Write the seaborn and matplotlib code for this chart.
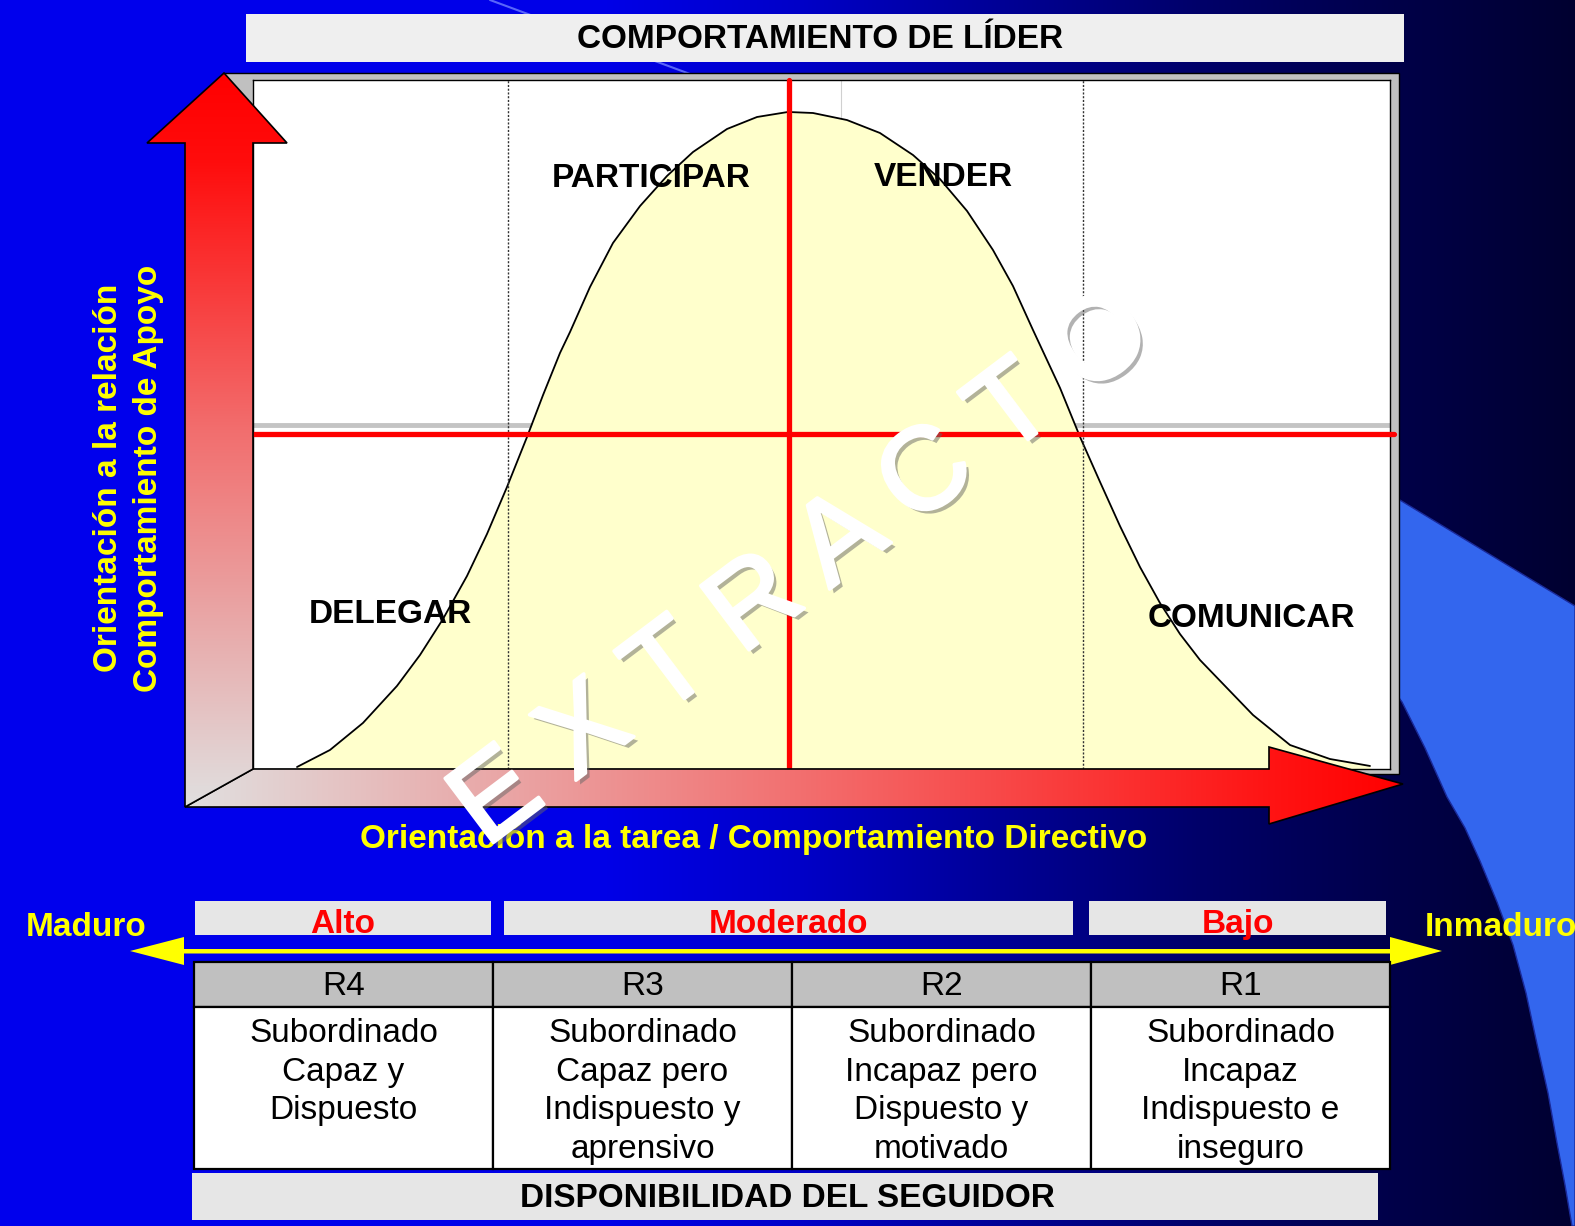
import numpy as np
import matplotlib
matplotlib.use("Agg")
import matplotlib.pyplot as plt
import seaborn as sns
from matplotlib.patches import Polygon, Rectangle
import matplotlib.patheffects as pe

# ---------------- data ----------------
# bell curve: task orientation (x, 0-100) vs relationship orientation (y, 0-100)
task_orientation = [3.87, 6.77, 9.67, 12.66, 14.69, 16.71, 18.82, 20.58, 22.34, 24.10,
                    25.51, 27.00, 27.88, 29.64, 31.66, 34.04, 36.41, 38.70, 41.69, 44.33,
                    47.05, 49.25, 52.24, 55.14, 58.05, 60.42, 62.80, 65.08, 66.84, 68.60,
                    70.98, 72.74, 74.50, 76.25, 78.01, 79.77, 81.53, 83.29, 85.66, 87.95,
                    91.21, 94.72, 98.24]
relationship_orientation = [0.29, 2.76, 6.68, 12.05, 16.55, 21.77, 28.01, 34.11, 40.93, 48.19,
                            54.28, 60.38, 63.42, 69.96, 76.34, 81.71, 86.07, 89.55, 92.89, 94.63,
                            95.36, 95.21, 94.19, 92.31, 89.11, 85.63, 80.99, 75.33, 70.10, 63.72,
                            55.30, 48.19, 41.65, 35.27, 29.32, 24.09, 19.59, 15.82, 11.76, 7.84,
                            3.48, 1.45, 0.44]
quadrant_dividers = [22.43, 73.0]
center_task = 47.14
center_relationship = 48.62
grid_relationship = 49.93
grid_task = 51.72

style_names = ["DELEGAR", "PARTICIPAR", "VENDER", "COMUNICAR"]
maturity_ends = ["Maduro", "Inmaduro"]
readiness_levels = ["Alto", "Moderado", "Bajo"]
readiness_codes = ["R4", "R3", "R2", "R1"]
readiness_desc = [["Subordinado", "Capaz y", "Dispuesto"],
                  ["Subordinado", "Capaz pero", "Indispuesto y", "aprensivo"],
                  ["Subordinado", "Incapaz pero", "Dispuesto y", "motivado"],
                  ["Subordinado", "Incapaz", "Indispuesto e", "inseguro"]]
title_top = "COMPORTAMIENTO DE LÍDER"
title_bottom = "DISPONIBILIDAD DEL SEGUIDOR"
x_label = "Orientación a la tarea / Comportamiento Directivo"
y_label = ["Orientación a la relación", "Comportamiento de Apoyo"]
watermark = "EXTRACTO"

# ---------------- styling ----------------
sns.set_theme(style="white")
plt.rcParams["font.family"] = ["Liberation Sans", "DejaVu Sans"]

W, H = 1575, 1226
fig = plt.figure(figsize=(W / 100, H / 100), dpi=100)


def pix_axes(z):
    a = fig.add_axes([0, 0, 1, 1], zorder=z)
    a.set_xlim(0, W)
    a.set_ylim(H, 0)
    a.axis("off")
    a.patch.set_alpha(0)
    return a


bg = pix_axes(0)

# background gradient
bx = [0, 600, 800, 1000, 1200, 1400, 1575]
bb = [238, 232, 200, 150, 105, 72, 48]
grad = np.zeros((1, W, 3))
grad[0, :, 2] = np.interp(np.arange(W), bx, bb) / 255
bg.imshow(grad, extent=[0, W, H, 0], aspect="auto", zorder=0, interpolation="bilinear")

# light blue swoosh on the right
bg.add_patch(Polygon([(1380, 488), (1575, 606), (1575, 1226), (1572, 1226), (1565, 1185),
                      (1557, 1143), (1548, 1093), (1537, 1044), (1526, 993), (1513, 945),
                      (1497, 902), (1480, 861), (1465, 828), (1447, 797), (1425, 748),
                      (1402, 702), (1380, 672)], closed=True, facecolor="#3366EE",
                     edgecolor="#1a2a9a", lw=1, zorder=1))
# faint streak at the top
bg.plot([490, 690], [0, 74], color="#7080FF", lw=1.5, alpha=0.8, zorder=1)

# title bar
bg.add_patch(Rectangle((246, 14), 1404 - 246, 48, facecolor="#EFEFEF", edgecolor="none", zorder=2))
bg.text(820, 48, title_top, ha="center", va="baseline", fontsize=24, weight="bold",
        color="black", zorder=3)

# panel frame (grey back border)
bg.add_patch(Rectangle((224, 73), 1399 - 224, 774 - 73, facecolor="#C0C0C0",
                       edgecolor="black", lw=1, zorder=2))

# readiness level boxes
level_boxes = [(195, 491), (504, 1073), (1089, 1386)]
for (x0, x1), lab in zip(level_boxes, readiness_levels):
    bg.add_patch(Rectangle((x0, 901), x1 - x0, 34, facecolor="#E6E6E6", edgecolor="none", zorder=2))
    bg.text((x0 + x1) / 2, 933, lab, ha="center", va="baseline", fontsize=24,
            weight="bold", color="#FF0000", zorder=3)

bg.text(26, 936, maturity_ends[0], ha="left", va="baseline", fontsize=24,
        weight="bold", color="#FFFF00", zorder=3)
bg.text(1425, 936, maturity_ends[1], ha="left", va="baseline", fontsize=24,
        weight="bold", color="#FFFF00", zorder=3)

# yellow double arrow
bg.add_patch(Polygon([(130, 951), (184, 937), (184, 949), (1390, 949), (1390, 937),
                      (1442, 951), (1390, 965), (1390, 953.5), (184, 953.5), (184, 965)],
                     closed=True, facecolor="#FFFF00", edgecolor="none", zorder=3))

# readiness table
edges = np.linspace(194, 1390, len(readiness_codes) + 1)
top, mid, bot = 962, 1007, 1169
for i, code in enumerate(readiness_codes):
    x0, x1 = edges[i], edges[i + 1]
    bg.add_patch(Rectangle((x0, top), x1 - x0, mid - top, facecolor="#C0C0C0",
                           edgecolor="black", lw=1.6, zorder=3))
    bg.add_patch(Rectangle((x0, mid), x1 - x0, bot - mid, facecolor="white",
                           edgecolor="black", lw=1.6, zorder=3))
    cx = (x0 + x1) / 2
    bg.text(cx, 995, code, ha="center", va="baseline", fontsize=24, color="black", zorder=4)
    for j, line in enumerate(readiness_desc[i]):
        bg.text(cx, 1042 + 38.7 * j, line, ha="center", va="baseline", fontsize=24,
                color="black", zorder=4)

# bottom bar
bg.add_patch(Rectangle((192, 1173), 1378 - 192, 47, facecolor="#E6E6E6", edgecolor="none", zorder=2))
bg.text(787, 1207, title_bottom, ha="center", va="baseline", fontsize=24, weight="bold",
        color="black", zorder=3)

# axis labels
bg.text(754, 848, x_label, ha="center", va="baseline", fontsize=24, weight="bold",
        color="#FFFF00", zorder=3)
for bx_, line in zip([117, 157], y_label):
    bg.text(bx_, 478, line, ha="center", va="baseline", rotation=90, rotation_mode="anchor",
            fontsize=24, weight="bold", color="#FFFF00", zorder=3)

bg.set_xlim(0, W)
bg.set_ylim(H, 0)

# ---------------- main chart panel ----------------
PL, PR, PT, PB = 253, 1390, 80, 769
ax = fig.add_axes([PL / W, 1 - PB / H, (PR - PL) / W, (PB - PT) / H], zorder=1)
ax.set_xlim(0, 100)
ax.set_ylim(0, 100)
ax.set_facecolor("white")
ax.set_xticks([])
ax.set_yticks([])
for s in ax.spines.values():
    s.set_visible(True)
    s.set_color("black")
    s.set_linewidth(1)

ax.axhline(grid_relationship, color="#C4C4C4", lw=3.5, zorder=1)
ax.plot([grid_task, grid_task], [80, 100], color="#D0D0D0", lw=0.8, zorder=1)
ax.fill_between(task_orientation, relationship_orientation, 0, color="#FFFFCC", zorder=2, lw=0)
sns.lineplot(x=task_orientation, y=relationship_orientation, sort=False, color="black",
             lw=1.3, ax=ax, zorder=3, solid_joinstyle="round")
for xd in quadrant_dividers:
    ax.axvline(xd, color="#333333", lw=1, ls=(0, (1.5, 1.2)), zorder=3)
ax.plot([center_task, center_task], [-0.6, 100], color="#FF0000", lw=3.8,
        solid_capstyle="round", clip_on=False, zorder=4)
ax.plot([-0.3, 100.35], [center_relationship, center_relationship], color="#FF0000", lw=3.8,
        solid_capstyle="round", clip_on=False, zorder=4)
ax.set_xlabel("")
ax.set_ylabel("")

# ---------------- overlay: arrows, labels, watermark ----------------
top_ax = pix_axes(2)


def gradient_polygon(a, verts, pos, rgbs, axis, z):
    verts = np.asarray(verts, float)
    x0, x1 = verts[:, 0].min(), verts[:, 0].max()
    y0, y1 = verts[:, 1].min(), verts[:, 1].max()
    n = 500
    if axis == "x":
        c = np.linspace(x0, x1, n)
    else:
        c = np.linspace(y0, y1, n)
    cols = np.stack([np.interp(c, pos, [r[k] for r in rgbs]) for k in range(3)], -1) / 255
    img = cols[None, :, :] if axis == "x" else cols[:, None, :]
    im = a.imshow(img, extent=[x0, x1, y1, y0], aspect="auto", zorder=z, interpolation="bilinear")
    clip = Polygon(verts, closed=True, facecolor="none", edgecolor="none")
    a.add_patch(clip)
    im.set_clip_path(clip)
    a.add_patch(Polygon(verts, closed=True, fill=False, edgecolor="black", lw=1.2,
                        joinstyle="miter", zorder=z + 0.1))


# floor / horizontal arrow
gradient_polygon(top_ax, [(185, 807), (253, 769), (1269, 769), (1269, 747), (1403, 784),
                          (1269, 824), (1269, 807)],
                 [185, 780, 1269, 1403], [(224, 224, 224), (242, 115, 115), (255, 20, 20), (255, 0, 0)],
                 "x", 2)
# wall / vertical arrow
gradient_polygon(top_ax, [(185, 807), (185, 143), (147, 143), (224, 73), (287, 143),
                          (253, 143), (253, 769)],
                 [73, 160, 430, 807], [(255, 0, 0), (255, 12, 12), (242, 110, 110), (224, 224, 224)],
                 "y", 3)

# style labels
label_pos = [(390, 623), (651, 187), (943, 186), (1251, 627)]
for (lx, ly), name in zip(label_pos, style_names):
    top_ax.text(lx, ly, name, ha="center", va="baseline", fontsize=24, weight="bold",
                color="black", zorder=5)

# watermark
top_ax.text(803, 571, " ".join(watermark), ha="center", va="center", rotation=37,
            rotation_mode="anchor", fontsize=84, color="white", zorder=6,
            path_effects=[pe.SimplePatchShadow(offset=(3, -3), shadow_rgbFace=(0.4, 0.4, 0.4),
                                               alpha=0.5),
                          pe.Stroke(linewidth=2.5, foreground="white"),
                          pe.Normal()])
top_ax.set_xlim(0, W)
top_ax.set_ylim(H, 0)

fig.savefig("out.png", dpi=100)
